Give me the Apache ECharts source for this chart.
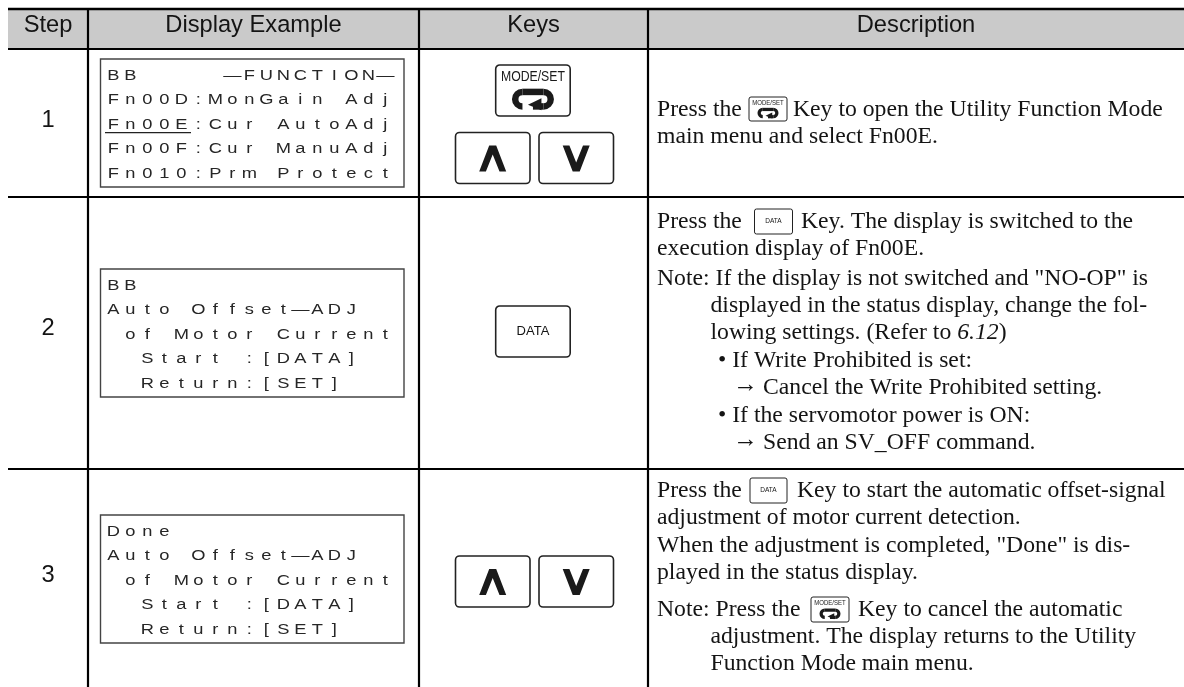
<!DOCTYPE html>
<html>
<head>
<meta charset="utf-8">
<title>Fn00E</title>
<script src="https://cdn.jsdelivr.net/npm/echarts@6/dist/echarts.min.js"></script>
<style>
  html, body { margin: 0; padding: 0; background: #fff; }
  #chart { width: 1184px; height: 687px; }
</style>
</head>
<body>
<div id="chart"></div>
<script>
// table content
const headers = ['Step', 'Display Example', 'Keys', 'Description'];
const steps = ['1', '2', '3'];

const display1 = ['BB     \u2014FUNCTION\u2014', 'Fn00D:MonGain Adj', 'Fn00E:Cur AutoAdj', 'Fn00F:Cur ManuAdj', 'Fn010:Prm Protect'];
const display2 = ['BB', 'Auto Offset\u2014ADJ', ' of Motor Current', '  Start :[DATA]', '  Return:[SET]'];
const display3 = ['Done', 'Auto Offset\u2014ADJ', ' of Motor Current', '  Start :[DATA]', '  Return:[SET]'];

const desc1 = ['Press the', 'Key to open the Utility Function Mode', 'main menu and select Fn00E.'];
const desc2 = ['Press the', 'Key. The display is switched to the', 'execution display of Fn00E.',
  'Note: If the display is not switched and "NO-OP" is', 'displayed in the status display, change the fol-',
  'lowing settings. (Refer to {i|6.12})', '\u2022 If Write Prohibited is set:', 'Cancel the Write Prohibited setting.',
  '\u2022 If the servomotor power is ON:', 'Send an SV_OFF command.'];
const desc3 = ['Press the', 'Key to start the automatic offset-signal', 'adjustment of motor current detection.',
  'When the adjustment is completed, "Done" is dis-', 'played in the status display.',
  'Note: Press the', 'Key to cancel the automatic', 'adjustment. The display returns to the Utility', 'Function Mode main menu.'];

const modeLabel = 'MODE/SET';
const dataLabel = 'DATA';
const arrowMark = '\u2192';

// layout
const colX = [8, 88, 419, 648, 1184];
const rowY = [9, 49, 197, 469, 687];
const SANS = '"Liberation Sans", Arial, sans-serif';
const SERIF = '"Liberation Serif", "Times New Roman", serif';
const TXT = '#141414';
const BODY_SIZE = 23.7;

const els = [];

function rect(x, y, w, h, fill, stroke, lw, r) {
  els.push({ type: 'rect', silent: true, shape: { x, y, width: w, height: h, r: r || 0 },
    style: { fill: fill || 'none', stroke: stroke || 'none', lineWidth: lw || 0 } });
}
function line(x1, y1, x2, y2, lw, color) {
  els.push({ type: 'line', silent: true, shape: { x1, y1, x2, y2 },
    style: { stroke: color || '#000', lineWidth: lw } });
}
// y is the baseline
function text(str, x, y, size, font, align, extra) {
  els.push({ type: 'text', silent: true, x, y: y - size * 0.33,
    scaleX: (extra && extra.scaleX) || 1,
    style: Object.assign({ text: str, x: 0, y: 0, fill: TXT, font: size + 'px ' + font,
      align: align || 'left', verticalAlign: 'middle' }, (extra && extra.style) || {}) });
}

function lcd(lines, topY) {
  const pitch = 24.5, cell = 17, sx = 1.18;
  lines.forEach((s, i) => {
    const rich = s.split('').map(c => '{c|' + c + '}').join('');
    els.push({ type: 'text', silent: true, x: 104.8, y: topY + 16.7 + i * pitch, scaleX: sx,
      style: { text: rich, x: 0, y: 0, align: 'left', verticalAlign: 'middle',
        rich: { c: { width: cell / sx, align: 'center', fontSize: 15.5, fontFamily: SANS, fill: '#262626' } } } });
  });
}

function chevron(cx, cy, up, s) {
  const d = up ? 1 : -1;
  const pts = [[-13.5, 13], [-3.5, -13], [3.5, -13], [13.5, 13], [6.8, 13], [0, -4], [-6.8, 13]];
  els.push({ type: 'polygon', silent: true,
    shape: { points: pts.map(p => [cx + p[0] * s, cy + p[1] * s * d]) }, style: { fill: '#1a1a1a' } });
}
function upDownKeys(y) {
  rect(455.5, y, 74.5, 51, '#fff', '#222', 1.6, 4);
  rect(539, y, 74.5, 51, '#fff', '#222', 1.6, 4);
  chevron(492.7, y + 26, true, 1);
  chevron(576.2, y + 26, false, 1);
}
function returnIcon(cx, cy, s) {
  // open loop with the arrow head coming back in from the right
  const lw = 6.5 * s, st = { fill: 'none', stroke: '#1a1a1a', lineWidth: lw };
  const r = 7.25 * s, off = 10.5 * s;
  els.push({ type: 'arc', silent: true, shape: { cx: cx - off, cy, r, startAngle: Math.PI * 0.5, endAngle: Math.PI * 1.5, clockwise: true }, style: st });
  els.push({ type: 'arc', silent: true, shape: { cx: cx + off, cy, r, startAngle: -Math.PI * 0.5, endAngle: Math.PI * 0.5, clockwise: true }, style: st });
  line(cx - off, cy - r, cx + off, cy - r, lw, '#1a1a1a');
  line(cx, cy + r, cx + off, cy + r, lw, '#1a1a1a');
  els.push({ type: 'polygon', silent: true,
    shape: { points: [[cx - 5 * s, cy + 5.5 * s], [cx + 8.5 * s, cy - 1 * s], [cx + 8.5 * s, cy + 11 * s]] }, style: { fill: '#1a1a1a' } });
}
function modeKey(x, y, w, h, fs, iconScale, lw) {
  rect(x, y, w, h, '#fff', '#222', lw, 4 * w / 74);
  const cx = x + w / 2;
  text(modeLabel, cx, y + h * 0.33, fs, SANS, 'center', { scaleX: 0.84, style: { fill: '#1a1a1a' } });
  returnIcon(cx, y + h * 0.67, iconScale);
}
function dataKey(x, y, w, h, fs, lw) {
  rect(x, y, w, h, '#fff', '#222', lw, 4 * w / 74);
  text(dataLabel, x + w / 2, y + h / 2 + fs * 0.36, fs, SANS, 'center');
}

// header band and rules
rect(colX[0], rowY[0], colX[4] - colX[0], rowY[1] - rowY[0], '#cacaca');
line(colX[0], rowY[0], colX[4], rowY[0], 2.4);
line(colX[0], rowY[1], colX[4], rowY[1], 2.2);
line(colX[0], rowY[2], colX[4], rowY[2], 2);
line(colX[0], rowY[3], colX[4], rowY[3], 2);
[1, 2, 3].forEach(i => line(colX[i], rowY[0], colX[i], rowY[4], 2.2));

headers.forEach((h, i) => text(h, (colX[i] + colX[i + 1]) / 2, 33, BODY_SIZE, SANS, 'center'));
const stepY = [128.5, 336.5, 583.5];
steps.forEach((s, i) => text(s, (colX[0] + colX[1]) / 2, stepY[i], BODY_SIZE, SANS, 'center'));

// display panels
[[display1, 59], [display2, 269], [display3, 515]].forEach(d => {
  rect(100.5, d[1], 303.5, 128, '#fff', '#444', 1.4);
  lcd(d[0], d[1]);
});
line(105, 132.7, 191, 132.7, 1.2, '#222');

// keys column
modeKey(495.7, 65, 74.5, 51, 14.6, 1, 1.6);
upDownKeys(132.5);
dataKey(495.7, 306, 74.5, 51, 13, 1.6);
upDownKeys(556);

// description column
const X0 = 657, NOTE_X = 710.5, LIST_X = 718, ARROW_X = 733, ARROW_TEXT_X = 763;
function desc(str, x, y) {
  text(str, x, y, BODY_SIZE, SERIF, 'left', str.indexOf('{i|') >= 0 ? {
    style: { rich: { i: { fontStyle: 'italic', fontSize: BODY_SIZE, fontFamily: SERIF, fill: TXT } } } } : null);
}
function arrow(y) {
  text(arrowMark, ARROW_X, y - 2.5, 25, SERIF, 'left');
}
desc(desc1[0], X0, 118);
modeKey(749, 97, 38, 24, 7.2, 0.5, 1);
desc(desc1[1], 793, 118);
desc(desc1[2], X0, 145);

desc(desc2[0], X0, 230);
dataKey(754.5, 209, 38, 25, 6.5, 1);
desc(desc2[1], 801, 230);
desc(desc2[2], X0, 257);
desc(desc2[3], X0, 287);
desc(desc2[4], NOTE_X, 314);
desc(desc2[5], NOTE_X, 341);
desc(desc2[6], LIST_X, 369);
arrow(396);
desc(desc2[7], ARROW_TEXT_X, 396);
desc(desc2[8], LIST_X, 424);
arrow(451);
desc(desc2[9], ARROW_TEXT_X, 451);

desc(desc3[0], X0, 499);
dataKey(750, 478, 37, 25, 6.5, 1);
desc(desc3[1], 797, 499);
desc(desc3[2], X0, 526);
desc(desc3[3], X0, 554);
desc(desc3[4], X0, 581);
desc(desc3[5], X0, 618);
modeKey(811, 597, 38, 25, 7.2, 0.5, 1);
desc(desc3[6], 858, 618);
desc(desc3[7], NOTE_X, 645);
desc(desc3[8], NOTE_X, 672);

const myChart = echarts.init(document.getElementById('chart'));
myChart.setOption({ animation: false, backgroundColor: '#fff', graphic: { elements: els } });
</script>
</body>
</html>
